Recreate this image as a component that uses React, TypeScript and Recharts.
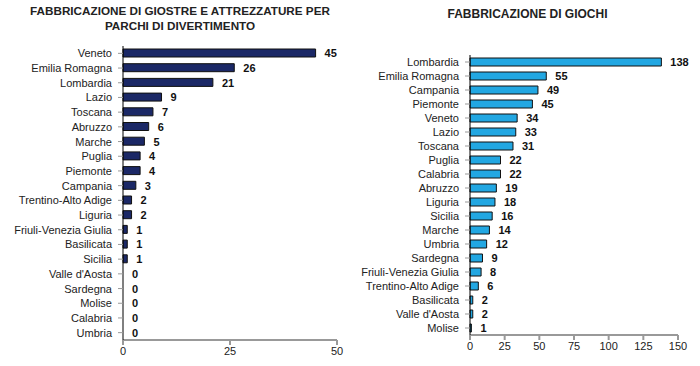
import { ComposedChart, Bar, Line, XAxis, YAxis, LabelList } from "recharts";

const giostreRegions = [
  "Veneto", "Emilia Romagna", "Lombardia", "Lazio", "Toscana", "Abruzzo", "Marche",
  "Puglia", "Piemonte", "Campania", "Trentino-Alto Adige", "Liguria",
  "Friuli-Venezia Giulia", "Basilicata", "Sicilia", "Valle d'Aosta", "Sardegna",
  "Molise", "Calabria", "Umbria",
];
const giostreValues = [45, 26, 21, 9, 7, 6, 5, 4, 4, 3, 2, 2, 1, 1, 1, 0, 0, 0, 0, 0];
const giostreTicks = [0, 25, 50];

const giochiRegions = [
  "Lombardia", "Emilia Romagna", "Campania", "Piemonte", "Veneto", "Lazio", "Toscana",
  "Puglia", "Calabria", "Abruzzo", "Liguria", "Sicilia", "Marche", "Umbria", "Sardegna",
  "Friuli-Venezia Giulia", "Trentino-Alto Adige", "Basilicata", "Valle d'Aosta", "Molise",
];
const giochiValues = [138, 55, 49, 45, 34, 33, 31, 22, 22, 19, 18, 16, 14, 12, 9, 8, 6, 2, 2, 1];
const giochiTicks = [0, 25, 50, 75, 100, 125, 150];

const font = "'Liberation Sans', Arial, sans-serif";
const tickStyle = { fontSize: 11, fill: "#222", fontFamily: font };

// plain single-line category tick (the default one wraps long names)
function RegionTick(props: any) {
  const { x, y, payload } = props;
  return (
    <text x={x} y={y} dy={4} textAnchor="end" fontSize={11} fill="#222" fontFamily={font}>
      {payload.value}
    </text>
  );
}

// value labels hang off an invisible line so that zero values get one too
function ValueLabel(props: any) {
  const { x, y, value } = props;
  return (
    <text
      x={Number(x) + 9}
      y={Number(y)}
      dy={4}
      fontSize={11}
      fontWeight="bold"
      fill="#111"
      fontFamily={font}
    >
      {value}
    </text>
  );
}

function Panel(props: {
  regions: string[];
  values: number[];
  ticks: number[];
  fill: string;
  top: number;
  bottom: number;
  axisWidth: number;
  right: number;
}) {
  const data = props.regions.map((r, i) => ({ region: r, value: props.values[i] }));
  const max = props.ticks[props.ticks.length - 1];
  return (
    <ComposedChart
      width={350}
      height={366}
      data={data}
      layout="vertical"
      margin={{ top: props.top, bottom: props.bottom, left: 0, right: props.right }}
    >
      <XAxis
        type="number"
        domain={[0, max]}
        ticks={props.ticks}
        interval={0}
        height={20}
        tick={tickStyle}
        stroke="#999"
        strokeWidth={2}
        tickSize={5}
      />
      <YAxis
        type="category"
        dataKey="region"
        width={props.axisWidth}
        interval={0}
        tick={<RegionTick />}
        axisLine={{ stroke: "#000", strokeWidth: 1 }}
        tickLine={{ stroke: "#999" }}
        tickSize={5}
        tickMargin={6}
      />
      <Bar
        dataKey="value"
        fill={props.fill}
        stroke="#111"
        strokeWidth={1}
        barSize={8}
        isAnimationActive={false}
      />
      <Line
        dataKey="value"
        stroke="none"
        dot={false}
        activeDot={false}
        isAnimationActive={false}
      >
        <LabelList dataKey="value" content={<ValueLabel />} />
      </Line>
    </ComposedChart>
  );
}

export default function App() {
  const titleStyle = {
    position: "absolute" as const,
    fontFamily: font,
    fontWeight: "bold" as const,
    color: "#222",
    textAlign: "center" as const,
    lineHeight: "15px",
  };
  return (
    <div style={{ position: "absolute", left: 0, top: 0, width: 700, height: 366, background: "#fff" }}>
      <div style={{ ...titleStyle, fontSize: 11.7, left: 0, width: 360, top: 3 }}>
        FABBRICAZIONE DI GIOSTRE E ATTREZZATURE PER
        <br />
        PARCHI DI DIVERTIMENTO
      </div>
      <div style={{ ...titleStyle, fontSize: 12, left: 350, width: 355, top: 7 }}>FABBRICAZIONE DI GIOCHI</div>
      <div style={{ position: "absolute", left: 0, top: 0 }}>
        <Panel
          regions={giostreRegions}
          values={giostreValues}
          ticks={giostreTicks}
          fill="#1b2866"
          top={46}
          bottom={6}
          axisWidth={123}
          right={13}
        />
      </div>
      <div style={{ position: "absolute", left: 350, top: 0 }}>
        <Panel
          regions={giochiRegions}
          values={giochiValues}
          ticks={giochiTicks}
          fill="#22a7e2"
          top={55}
          bottom={11}
          axisWidth={120}
          right={22}
        />
      </div>
    </div>
  );
}
